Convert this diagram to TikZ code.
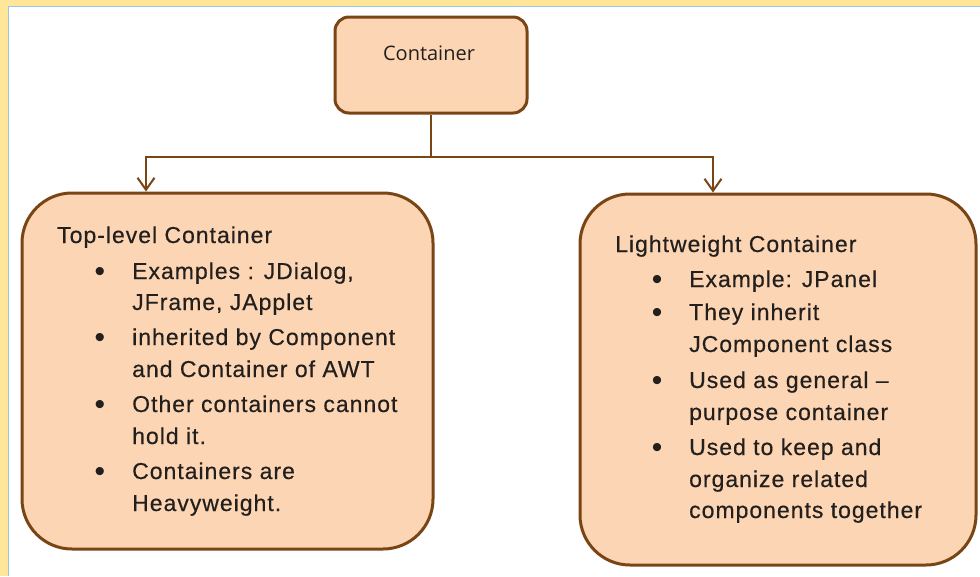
\documentclass[tikz,border=0pt]{standalone}
\usepackage{fontspec}
\setmainfont{Liberation Sans}
\newfontfamily\bodyfont[LetterSpace=4.3,FakeBold=0.4]{Liberation Sans}
\newfontfamily\bulfont{Liberation Sans}
\newfontfamily\topfont{Open Sans}
\usetikzlibrary{arrows.meta}
\definecolor{peach}{HTML}{FCD5B5}
\definecolor{brownline}{HTML}{7A4514}
\definecolor{frameyellow}{HTML}{FFE699}
\definecolor{frameblue}{HTML}{9DC3E6}
\definecolor{textcol}{HTML}{231F1C}
\begin{document}
\begin{tikzpicture}[x=1pt,y=-1pt,
  box/.style={draw=brownline, fill=peach, line width=3pt, inner sep=0pt},
  conn/.style={draw=brownline, line width=2pt, -{Straight Barb[length=12pt,width=17pt]}},
  txt/.style={anchor=base west, inner sep=0pt, text=textcol, font=\bodyfont\fontsize{23}{28}\selectfont},
  bul/.style={anchor=base, inner sep=0pt, text=textcol, font=\bulfont\fontsize{30}{34}\selectfont}
]
\useasboundingbox (0,0) rectangle (980,576);
\fill[white] (0,0) rectangle (980,576);
% frame
\fill[frameyellow] (0,0) rectangle (980,5.5);
\fill[frameyellow] (0,0) rectangle (7.5,576);
\draw[frameblue, line width=1pt] (8,576) -- (8,6) -- (980,6);

% boxes
\node[box, rounded corners=14pt, minimum width=192pt, minimum height=96pt] (top) at (431,65) {};
\node[anchor=center, inner sep=0pt, text=textcol, font=\topfont\fontsize{20}{24}\selectfont] (toplabel) at (429,53) {Container};
\node[box, rounded corners=50pt, minimum width=411pt, minimum height=356pt] (left) at (227.5,371) {};
\node[box, rounded corners=50pt, minimum width=396pt, minimum height=371pt] (right) at (778,379.5) {};

% connectors
\coordinate (junction) at (431,157);
\draw[conn] (top.south) -- (junction) -| ([xshift=-81.5pt]left.north);
\draw[conn] (junction) -| ([xshift=-65pt]right.north);

% left text
\node[txt] (lt) at (57,243) {Top-level Container};
\node[bul] (lb1) at (100,281) {•};
\node[txt] (l1a) at (132,279) {Examples : JDialog,};
\node[txt] (l1b) at (132,310) {JFrame, JApplet};
\node[bul] (lb2) at (100,347) {•};
\node[txt] (l2a) at (132,345) {inherited by Component};
\node[txt] (l2b) at (132,377) {and Container of AWT};
\node[bul] (lb3) at (100,414) {•};
\node[txt] (l3a) at (132,412) {Other containers cannot};
\node[txt] (l3b) at (132,444) {hold it.};
\node[bul] (lb4) at (100,481) {•};
\node[txt] (l4a) at (132,479) {Containers are};
\node[txt] (l4b) at (132,511) {Heavyweight.};

% right text
\node[txt] (rt) at (615,252) {Lightweight Container};
\node[bul] (rb1) at (657,289) {•};
\node[txt] (r1a) at (689,287) {Example: JPanel};
\node[bul] (rb2) at (657,322) {•};
\node[txt] (r2a) at (689,320) {They inherit};
\node[txt] (r2b) at (689,352) {JComponent class};
\node[bul] (rb3) at (657,390) {•};
\node[txt] (r3a) at (689,388) {Used as general –};
\node[txt] (r3b) at (689,420) {purpose container};
\node[bul] (rb4) at (657,457) {•};
\node[txt] (r4a) at (689,455) {Used to keep and};
\node[txt] (r4b) at (689,487) {organize related};
\node[txt] (r4c) at (689,518) {components together};
\end{tikzpicture}
\end{document}
